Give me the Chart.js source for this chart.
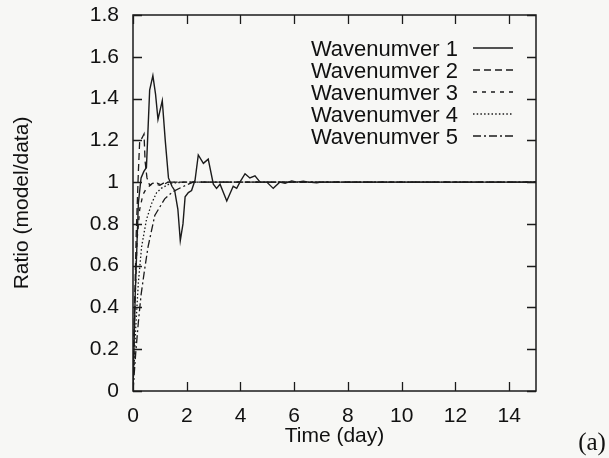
<!DOCTYPE html>
<html>
<head>
<meta charset="utf-8">
<script src="https://cdn.jsdelivr.net/npm/chart.js@4"></script>
<style>
  html, body { margin: 0; padding: 0; background: #f7f7f5; }
  #wrap { width: 609px; height: 458px; }
</style>
</head>
<body>
<div id="wrap"><canvas id="ratioChart" width="609" height="458"></canvas></div>
<script>
// Ratio model/data over time for each wavenumber
const seriesNames = ["Wavenumver 1", "Wavenumver 2", "Wavenumver 3", "Wavenumver 4", "Wavenumver 5"];

const dayW1 = [0, 0.08, 0.2, 0.3, 0.4, 0.5, 0.62, 0.74, 0.84, 0.93, 1.09, 1.2, 1.32, 1.45, 1.55, 1.67, 1.76, 1.86, 1.94, 2.06, 2.18, 2.31, 2.43, 2.62, 2.8, 2.99, 3.11, 3.24, 3.49, 3.73, 3.86, 3.98, 4.17, 4.35, 4.54, 4.73, 4.98, 5.22, 5.47, 5.66, 5.91, 6.1, 6.34, 6.53, 6.84, 7.0, 15];
const ratioW1 = [0, 0.45, 0.9, 1.02, 1.05, 1.07, 1.44, 1.51, 1.42, 1.30, 1.39, 1.2, 1.02, 0.98, 0.96, 0.87, 0.72, 0.80, 0.93, 0.95, 0.96, 1.01, 1.13, 1.09, 1.11, 0.99, 0.97, 0.99, 0.91, 0.98, 0.97, 1.0, 1.04, 1.02, 1.03, 1.0, 1.0, 0.97, 1.0, 0.995, 1.006, 1.0, 1.004, 1.0, 0.997, 1.0, 1.0];

const dayW2 = [0, 0.05, 0.12, 0.2, 0.25, 0.33, 0.41, 0.45, 0.52, 0.62, 0.74, 0.85, 1.0, 1.2, 1.5, 15];
const ratioW2 = [0, 0.35, 0.75, 1.05, 1.2, 1.21, 1.23, 1.1, 1.02, 0.985, 0.995, 0.99, 0.985, 1.0, 1.0, 1.0];

const dayW3 = [0, 0.08, 0.15, 0.25, 0.37, 0.5, 0.7, 0.9, 1.1, 1.3, 15];
const ratioW3 = [0, 0.45, 0.72, 0.87, 0.94, 0.97, 0.99, 0.995, 0.985, 1.0, 1.0];

const dayW4 = [0, 0.1, 0.2, 0.32, 0.5, 0.7, 0.88, 1.05, 1.4, 2, 15];
const ratioW4 = [0, 0.3, 0.52, 0.69, 0.82, 0.9, 0.95, 0.97, 0.995, 1.0, 1.0];

const dayW5 = [0, 0.1, 0.2, 0.3, 0.43, 0.56, 0.81, 1.18, 1.49, 1.8, 2.24, 2.6, 15];
const ratioW5 = [0, 0.18, 0.33, 0.46, 0.58, 0.69, 0.84, 0.92, 0.955, 0.975, 1.0, 1.0, 1.0];

const xTicks = [0, 2, 4, 6, 8, 10, 12, 14];
const yTicks = [0, 0.2, 0.4, 0.6, 0.8, 1, 1.2, 1.4, 1.6, 1.8];
const yTickLabels = ["0", "0.2", "0.4", "0.6", "0.8", "1", "1.2", "1.4", "1.6", "1.8"];

const INK = "#1b1b1b";
const SANS = "'Liberation Sans', Arial, sans-serif";

const toPoints = (days, ratios) => days.map((d, i) => ({ x: d, y: ratios[i] }));

const lineStyles = [
  { dash: [], width: 1.4 },
  { dash: [7, 4], width: 1.3 },
  { dash: [4, 5], width: 1.3 },
  { dash: [1.5, 2.2], width: 1.3 },
  { dash: [8, 3, 2, 3], width: 1.3 },
];

const allDays = [dayW1, dayW2, dayW3, dayW4, dayW5];
const allRatios = [ratioW1, ratioW2, ratioW3, ratioW4, ratioW5];

const datasets = seriesNames.map((name, i) => ({
  label: name,
  data: toPoints(allDays[i], allRatios[i]),
  borderColor: INK,
  borderWidth: lineStyles[i].width,
  borderDash: lineStyles[i].dash,
  pointRadius: 0,
  tension: 0,
  fill: false,
}));

// frame with inward ticks on all four sides, the legend, and the panel tag
const framePlugin = {
  id: "framePlugin",
  afterDatasetsDraw(chart) {
    const { ctx, chartArea: a, scales } = chart;
    const x = scales.x, y = scales.y;
    const tick = 9;
    ctx.save();
    ctx.setLineDash([]);
    ctx.strokeStyle = INK;
    ctx.lineWidth = 1.5;
    ctx.strokeRect(a.left, a.top, a.right - a.left, a.bottom - a.top);

    ctx.lineWidth = 1.3;
    ctx.beginPath();
    xTicks.forEach(v => {
      const px = Math.round(x.getPixelForValue(v)) + 0.5;
      ctx.moveTo(px, a.bottom); ctx.lineTo(px, a.bottom - tick);
      ctx.moveTo(px, a.top); ctx.lineTo(px, a.top + tick);
    });
    yTicks.forEach(v => {
      const py = Math.round(y.getPixelForValue(v)) + 0.5;
      ctx.moveTo(a.left, py); ctx.lineTo(a.left + tick, py);
      ctx.moveTo(a.right, py); ctx.lineTo(a.right - tick, py);
    });
    ctx.stroke();

    // legend inside the plot, text first then the line sample
    ctx.font = "22px " + SANS;
    ctx.fillStyle = "#111";
    ctx.textAlign = "right";
    ctx.textBaseline = "middle";
    const textRight = a.left + 325;
    const sampleL = a.left + 340, sampleR = a.left + 380;
    chart.data.datasets.forEach((ds, i) => {
      const rowY = a.top + 34 + i * 22;
      ctx.fillText(ds.label, textRight, rowY + 1);
      ctx.beginPath();
      ctx.setLineDash(ds.borderDash);
      ctx.lineWidth = ds.borderWidth;
      ctx.moveTo(sampleL, rowY - 1);
      ctx.lineTo(sampleR, rowY - 1);
      ctx.stroke();
    });
    ctx.setLineDash([]);

    ctx.font = "25px 'Liberation Serif', 'Times New Roman', serif";
    ctx.textAlign = "center";
    ctx.fillText("(a)", 592, 443);
    ctx.restore();
  }
};

new Chart(document.getElementById("ratioChart"), {
  type: "line",
  data: { datasets },
  options: {
    responsive: false,
    animation: false,
    layout: { padding: { left: 0, right: 73, top: 15, bottom: 0 } },
    plugins: {
      legend: { display: false },
      tooltip: { enabled: false },
    },
    scales: {
      x: {
        type: "linear",
        min: 0,
        max: 15,
        afterFit: s => { s.height = 67; s.paddingLeft = 0; s.paddingRight = 0; },
        afterBuildTicks: s => { s.ticks = xTicks.map(v => ({ value: v })); },
        grid: { display: false, drawTicks: false },
        border: { display: false },
        ticks: {
          color: "#111",
          padding: 13,
          maxRotation: 0,
          font: { family: SANS, size: 21 },
          callback: v => String(v),
        },
        title: {
          display: true,
          text: "Time (day)",
          color: "#111",
          font: { family: SANS, size: 21 },
          padding: { top: 0, bottom: 9 },
        },
      },
      y: {
        type: "linear",
        min: 0,
        max: 1.8,
        afterFit: s => { s.width = 133; s.paddingTop = 0; s.paddingBottom = 0; },
        afterBuildTicks: s => { s.ticks = yTicks.map(v => ({ value: v })); },
        grid: { display: false, drawTicks: false },
        border: { display: false },
        ticks: {
          color: "#111",
          padding: 14,
          font: { family: SANS, size: 21 },
          callback: (v, i) => yTickLabels[i],
        },
        title: {
          display: true,
          text: "Ratio (model/data)",
          color: "#111",
          font: { family: SANS, size: 21 },
          padding: { top: 10, bottom: 0 },
        },
      },
    },
  },
  plugins: [framePlugin],
});
</script>
</body>
</html>
